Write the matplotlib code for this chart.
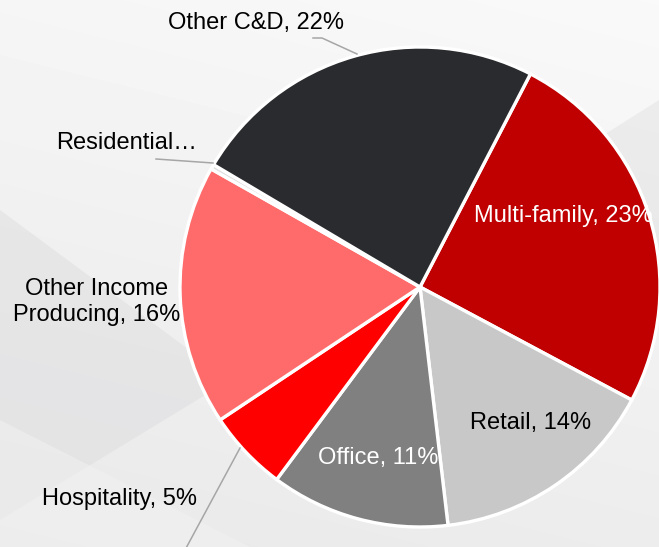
import matplotlib
matplotlib.use("Agg")
from matplotlib import pyplot as plt
from matplotlib.patches import Polygon
import numpy as np

# Loan mix by category (clockwise from the top right)
categories = ["Multi-family", "Retail", "Office", "Hospitality",
              "Other Income\nProducing", "Residential\u2026", "Other C&D"]
shares = [23, 14, 11, 5, 16, 0.3, 22]
label_texts = ["Multi-family, 23%", "Retail, 14%", "Office, 11%", "Hospitality, 5%",
               "Other Income\nProducing, 16%", "Residential\u2026", "Other C&D, 22%"]
colors = ["#C00000", "#C8C8C8", "#808080", "#FF0000", "#FF6B6B", "#E0E0E0", "#2A2B2E"]

plt.rcParams['font.family'] = ['Liberation Sans', 'DejaVu Sans']

W, H = 659, 547
fig = plt.figure(figsize=(W / 100, H / 100), dpi=100)

# slide-like background
bg = fig.add_axes([0, 0, 1, 1])
bg.set_xlim(0, W)
bg.set_ylim(H, 0)
bg.axis("off")
yy, xx = np.mgrid[0:H, 0:W]
grad = 0.962 - 0.05 * (yy / H) + 0.015 * (xx / W)
bg.imshow(grad, cmap="gray", vmin=0, vmax=1, extent=[0, W, H, 0], aspect="auto")
bg.add_patch(Polygon([[0, 210], [230, 380], [0, 520]], closed=True, color="#d6d6d9", alpha=0.35, lw=0))
bg.add_patch(Polygon([[0, 420], [250, 547], [0, 547]], closed=True, color="#f2f2f3", alpha=0.5, lw=0))
bg.add_patch(Polygon([[580, 150], [659, 100], [659, 320]], closed=True, color="#d8d8db", alpha=0.35, lw=0))

# pie axes: centre at pixel (420, 287), radius 240 px
cx, cy, r = 420, 287, 240
ax = fig.add_axes([0, 0, 1, 1])
ax.patch.set_alpha(0)

wedges, _ = ax.pie(shares, colors=colors, startangle=62.6, counterclock=False,
                   radius=1, center=(0, 0), frame=True,
                   wedgeprops=dict(edgecolor="white", linewidth=2.4))
ax.set_xlim(-cx / r, (W - cx) / r)
ax.set_ylim(-(H - cy) / r, cy / r)
ax.axis("off")


def px(x, y):
    return (x - cx) / r, (cy - y) / r


fs = 17
label_pos = [(563, 216), (531, 423), (378, 458), (119, 499),
             (97, 302), (127, 143), (256, 23)]
label_col = ["white", "black", "white", "black", "black", "black", "black"]
for txt, (x, y), c in zip(label_texts, label_pos, label_col):
    ax.text(*px(x, y), txt, ha="center", va="center", fontsize=fs, color=c,
            linespacing=1.2)

# leader lines
leaders = [
    [(357, 54), (322, 38), (313, 38)],
    [(213, 163), (156, 159)],
    [(240, 448), (185, 550)],
]
for pts in leaders:
    xs, ys = zip(*[px(x, y) for x, y in pts])
    ax.plot(xs, ys, color="#a6a6a6", lw=1.1)

fig.savefig("out.png", dpi=100)
